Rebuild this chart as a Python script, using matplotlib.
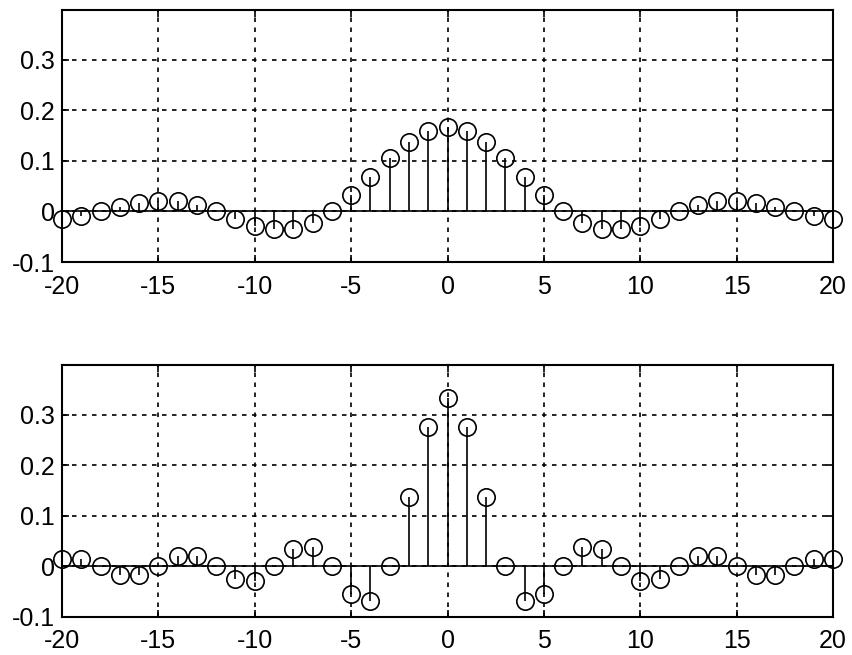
import numpy as np
import matplotlib
matplotlib.use("Agg")
import matplotlib.pyplot as plt

plt.rcParams['font.family'] = ['Liberation Sans', 'DejaVu Sans']

# sample index
n = list(range(-20, 21))

# values for n = 0..20 (symmetric about n = 0)
h_top_half = [0.167, 0.159, 0.138, 0.106, 0.069, 0.032, 0.0, -0.023, -0.034, -0.035,
              -0.028, -0.014, 0.0, 0.012, 0.020, 0.021, 0.017, 0.009, 0.0, -0.008, -0.014]
h_bot_half = [0.333, 0.276, 0.138, 0.0, -0.069, -0.055, 0.0, 0.039, 0.035, 0.0,
              -0.028, -0.025, 0.0, 0.021, 0.020, 0.0, -0.017, -0.016, 0.0, 0.015, 0.014]

h_top = h_top_half[:0:-1] + h_top_half
h_bot = h_bot_half[:0:-1] + h_bot_half

xticks = [-20, -15, -10, -5, 0, 5, 10, 15, 20]
yticks = [-0.1, 0, 0.1, 0.2, 0.3]
ytick_labels = ['-0.1', '0', '0.1', '0.2', '0.3']

fig = plt.figure(figsize=(8.52, 6.55), dpi=100)
ax1 = fig.add_axes([62 / 852, 1 - 262 / 655, 771 / 852, 252 / 655])
ax2 = fig.add_axes([62 / 852, 1 - 617 / 655, 771 / 852, 252 / 655])

for ax, h in [(ax1, h_top), (ax2, h_bot)]:
    ml, sl, bl = ax.stem(n, h, linefmt='k-', markerfmt='ko', basefmt='k-')
    ml.set_markerfacecolor('none')
    ml.set_markeredgecolor('black')
    ml.set_markersize(12.5)
    ml.set_markeredgewidth(1.2)
    sl.set_linewidth(1.2)
    bl.set_linewidth(1.2)
    bl.set_xdata([-20, 20])
    for m in [ml, sl, bl]:
        m.set_clip_on(False)
        m.set_zorder(3)

    ax.set_xlim(-20, 20)
    ax.set_ylim(-0.1, 0.399)
    ax.set_xticks(xticks)
    ax.set_xticklabels([str(t) for t in xticks])
    ax.set_yticks(yticks)
    ax.set_yticklabels(ytick_labels)
    ax.grid(True, color='black', linestyle=(0, (2.7, 3.3)), linewidth=1.2)
    ax.set_axisbelow(True)
    ax.tick_params(direction='in', length=5, width=1.2, labelsize=18,
                   top=True, right=True)
    ax.tick_params(axis='y', pad=5)
    ax.tick_params(axis='x', pad=9)
    for s in ax.spines.values():
        s.set_linewidth(1.5)

fig.savefig('out.png', dpi=100)
